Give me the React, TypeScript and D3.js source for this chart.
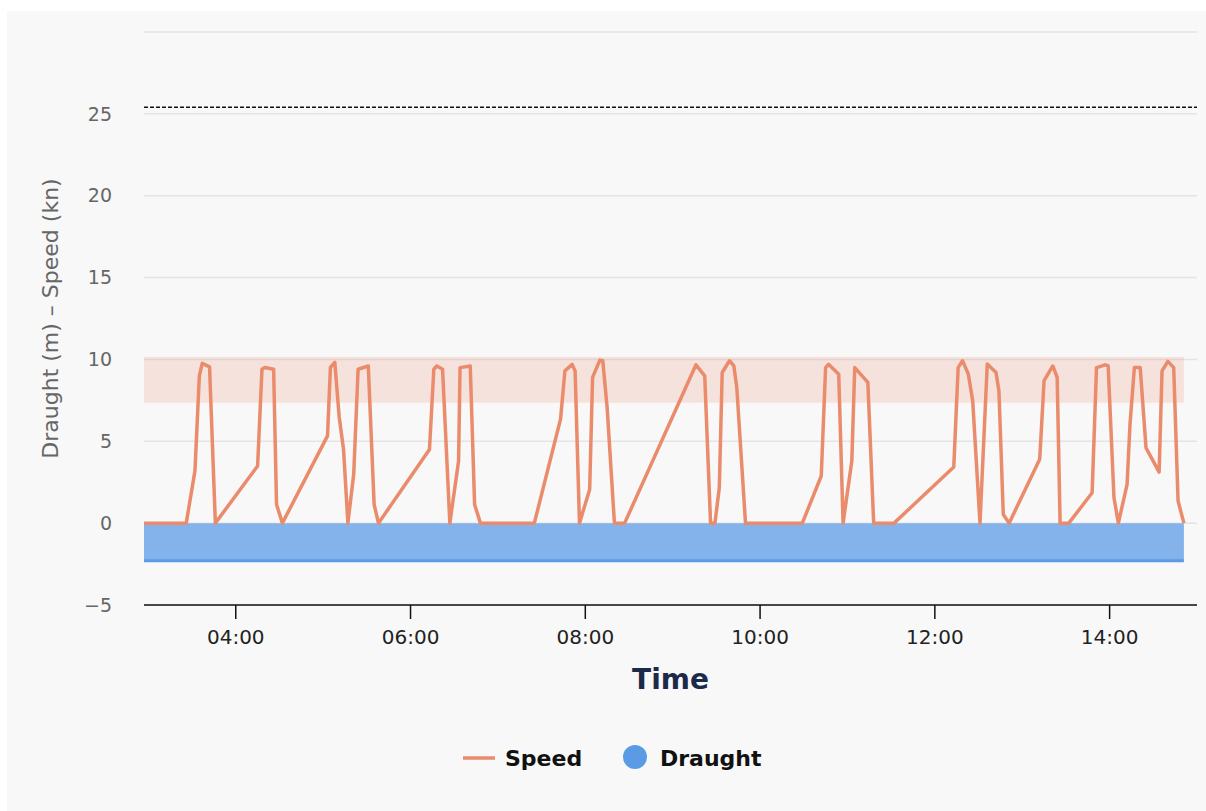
import React from 'react';
import * as d3 from 'd3';

const W = 1206;
const H = 811;
const MARGIN = { top: 32, right: 9, bottom: 206, left: 144 };

// speed samples (time of day, knots)
const speedTimes = [
  '02:57', '03:26', '03:32', '03:35', '03:37', '03:42', '03:46', '04:15', '04:18', '04:20',
  '04:26', '04:28', '04:32', '05:03', '05:05', '05:08', '05:11', '05:14', '05:17', '05:21',
  '05:24', '05:31', '05:35', '05:38', '06:13', '06:16', '06:18', '06:22', '06:27', '06:33',
  '06:34', '06:41', '06:44', '06:48', '07:25', '07:43', '07:46', '07:51', '07:53', '07:56',
  '08:03', '08:05', '08:10', '08:12', '08:15', '08:20', '08:27', '09:16', '09:22', '09:26',
  '09:29', '09:32', '09:34', '09:39', '09:42', '09:44', '09:50', '10:29', '10:42', '10:45',
  '10:47', '10:54', '10:57', '11:03', '11:05', '11:14', '11:18', '11:32', '12:13', '12:16',
  '12:19', '12:23', '12:26', '12:31', '12:36', '12:42', '12:44', '12:47', '12:51', '13:12',
  '13:15', '13:21', '13:24', '13:26', '13:32', '13:48', '13:51', '13:57', '13:59', '14:03',
  '14:06', '14:12', '14:14', '14:17', '14:21', '14:25', '14:34', '14:36', '14:40', '14:44',
  '14:47', '14:51',
];
const speedValues = [
  0, 0, 3.2, 9.0, 9.76, 9.55, 0, 3.49, 9.4, 9.51,
  9.4, 1.14, 0, 5.33, 9.51, 9.82, 6.5, 4.5, 0, 3.0,
  9.4, 9.6, 1.14, 0, 4.5, 9.4, 9.6, 9.4, 0, 3.8,
  9.5, 9.6, 1.14, 0, 0, 6.35, 9.3, 9.7, 9.3, 0,
  2.06, 8.9, 9.96, 9.92, 7.06, 0, 0, 9.67, 9.0, 0,
  0, 2.16, 9.2, 9.92, 9.6, 8.3, 0, 0, 2.88, 9.5,
  9.7, 9.1, 0, 3.8, 9.5, 8.6, 0, 0, 3.43, 9.5,
  9.92, 9.1, 7.47, 0, 9.72, 9.2, 8.08, 0.53, 0, 3.9,
  8.7, 9.6, 8.9, 0, 0, 1.86, 9.5, 9.67, 9.6, 1.55,
  0, 2.37, 6.04, 9.5, 9.5, 4.6, 3.12, 9.3, 9.88, 9.5,
  1.35, 0,
];

// draught (shown below zero)
const draughtTimes = ['02:57', '14:51'];
const draughtValues = [-2.3, -2.3];

// service speed band and max line
const speedBand = [7.35, 10.15];
const maxSpeed = 25.4;

const axisStart = '02:57';
const axisEnd = '15:00';
const yTicks = [-5, 0, 5, 10, 15, 20, 25];
const yGrid = [-5, 0, 5, 10, 15, 20, 25, 30];

const FONT = '"DejaVu Sans", Verdana, sans-serif';
const SPEED_COLOR = '#ea8b6c';
const DRAUGHT_COLOR = '#5b9be6';

const toDate = (t: string) => {
  const [h, m] = t.split(':').map(Number);
  return new Date(2024, 0, 1, h, m);
};

export default function App() {
  const innerW = W - MARGIN.left - MARGIN.right;
  const innerH = H - MARGIN.top - MARGIN.bottom;

  const x = d3.scaleTime().domain([toDate(axisStart), toDate(axisEnd)]).range([0, innerW]);
  const y = d3.scaleLinear().domain([-5, 30]).range([innerH, 0]);

  const speed = speedTimes.map((t, i) => ({ t: toDate(t), v: speedValues[i] }));
  const draught = draughtTimes.map((t, i) => ({ t: toDate(t), v: draughtValues[i] }));

  const speedLine = d3
    .line<{ t: Date; v: number }>()
    .x((d) => x(d.t))
    .y((d) => y(d.v));
  const draughtArea = d3
    .area<{ t: Date; v: number }>()
    .x((d) => x(d.t))
    .y0(y(0))
    .y1((d) => y(d.v));

  const dataStart = x(speed[0].t);
  const dataEnd = x(speed[speed.length - 1].t);
  const xTicks = x.ticks(d3.timeHour.every(2) as d3.TimeInterval);
  const fmt = d3.timeFormat('%H:%M');

  return (
    <svg
      width={W}
      height={H}
      style={{ position: 'absolute', top: 0, left: 0, fontFamily: FONT }}
    >
      <rect x={7} y={11} width={W - 7} height={H - 11} fill="#f8f8f8" />
      <g transform={`translate(${MARGIN.left},${MARGIN.top})`}>
        {yGrid.map((v) => (
          <line key={v} x1={0} x2={innerW} y1={y(v)} y2={y(v)} stroke="#e4e4e4" strokeWidth={1.5} />
        ))}
        <rect
          x={dataStart}
          width={dataEnd - dataStart}
          y={y(speedBand[1])}
          height={y(speedBand[0]) - y(speedBand[1])}
          fill="rgba(240,140,110,0.2)"
        />
        <line
          x1={0}
          x2={innerW}
          y1={y(maxSpeed)}
          y2={y(maxSpeed)}
          stroke="#111"
          strokeWidth={1.5}
          strokeDasharray="4,2"
        />
        <path d={draughtArea(draught) || ''} fill="#84b2ea" />
        <path d={speedLine(draught) || ''} fill="none" stroke={DRAUGHT_COLOR} strokeWidth={3} />
        <path
          d={speedLine(speed) || ''}
          fill="none"
          stroke={SPEED_COLOR}
          strokeWidth={3.5}
          strokeLinejoin="round"
        />
        {yTicks.map((v) => (
          <text
            key={v}
            x={-32}
            y={y(v)}
            dy="0.35em"
            textAnchor="end"
            fontSize={19}
            fill="#666"
          >
            {v < 0 ? `−${Math.abs(v)}` : v}
          </text>
        ))}
        <line x1={0} x2={innerW} y1={innerH} y2={innerH} stroke="#111" strokeWidth={1.5} />
        {xTicks.map((t) => (
          <g key={t.getTime()} transform={`translate(${x(t)},${innerH})`}>
            <line y1={0} y2={14} stroke="#111" strokeWidth={1.5} />
            <text y={39} textAnchor="middle" fontSize={20} fill="#222">
              {fmt(t)}
            </text>
          </g>
        ))}
        <text
          x={innerW / 2}
          y={innerH + 84}
          textAnchor="middle"
          fontSize={28}
          fontWeight="bold"
          fill="#1c2a4a"
        >
          Time
        </text>
        <text
          transform={`translate(${-86},${innerH / 2}) rotate(-90)`}
          textAnchor="middle"
          fontSize={22}
          fill="#666"
        >
          Draught (m) – Speed (kn)
        </text>
      </g>
      <g transform="translate(463,758)">
        <line x1={0} x2={32} y1={0} y2={0} stroke={SPEED_COLOR} strokeWidth={3.5} />
        <text x={42} y={0} dy="0.35em" fontSize={22} fontWeight="bold" fill="#111">
          Speed
        </text>
        <circle cx={172} cy={-1} r={12} fill={DRAUGHT_COLOR} />
        <text x={197} y={0} dy="0.35em" fontSize={22} fontWeight="bold" fill="#111">
          Draught
        </text>
      </g>
    </svg>
  );
}
